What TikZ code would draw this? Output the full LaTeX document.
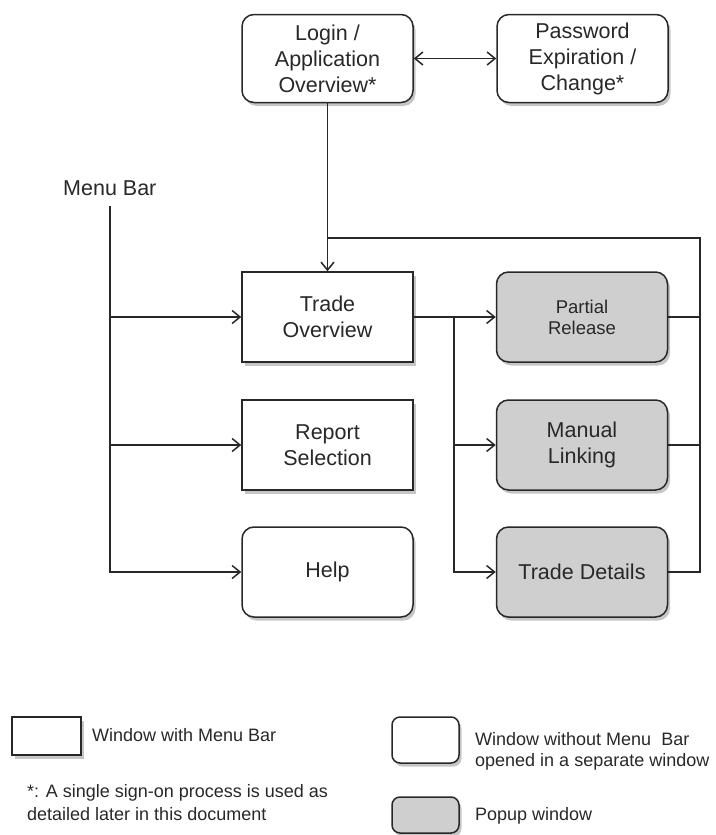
\documentclass[tikz,border=0pt]{standalone}
\usepackage{fontspec}
\setmainfont{Liberation Sans}
\usetikzlibrary{arrows.meta,shadows}
\definecolor{popgray}{RGB}{207,207,207}
\definecolor{ink}{RGB}{40,40,40}
\begin{document}
\begin{tikzpicture}[x=1pt,y=-1pt,
  >={Straight Barb[length=8pt,width=13pt]},
  conn/.style={draw=ink, line width=1.5pt},
  winbox/.style={draw=ink, line width=1.5pt, fill=white, minimum width=171pt, minimum height=90pt, inner sep=0pt, align=center, text=ink, font=\fontsize{21.5}{26}\selectfont, drop shadow={shadow xshift=2.5pt, shadow yshift=-3.5pt, opacity=0.45}},
  roundbox/.style={winbox, rounded corners=12pt},
  popbox/.style={roundbox, fill=popgray},
  legtext/.style={anchor=base west, inner sep=0pt, text=ink, font=\fontsize{18}{22}\selectfont}
]
\useasboundingbox (0,0) rectangle (715,835);

% main nodes
\node[roundbox, minimum height=88pt] (login) at (327.5,58.5) {Login /\\Application\\Overview*};
\node[roundbox, minimum height=88pt] (pwd) at (582.5,58.5) {Password\\Expiration /\\Change*};
\node[winbox] (trade) at (327.5,317) {Trade\\Overview};
\node[winbox] (report) at (327.5,445) {Report\\Selection};
\node[roundbox] (help) at (327.5,572) {Help};
\node[popbox, font=\fontsize{18.5}{21}\selectfont] (partial) at (582,317) {Partial\\Release};
\node[popbox] (manual) at (582,445) {Manual\\Linking};
\node[popbox] (details) at (582,572) {Trade Details};

\node[anchor=base west, inner sep=0pt, text=ink, font=\fontsize{21.5}{26}\selectfont] (menu) at (63,195) {Menu Bar};

% connectors
\draw[conn,<->] (login) -- (pwd);
\draw[conn,->] (login) -- (trade);
\coordinate (lt) at (327.5,238);
\coordinate (rt) at (700,238);
\draw[conn] (lt) -- (rt) |- (details.east);
\draw[conn] (partial.east) -- (rt|-partial.east);
\draw[conn] (manual.east) -- (rt|-manual.east);

\coordinate (mtop) at (110,206);
\draw[conn,->] (mtop) |- (help.west);
\draw[conn,->] (mtop|-trade.west) -- (trade.west);
\draw[conn,->] (mtop|-report.west) -- (report.west);

\coordinate (br) at (454,317);
\draw[conn,->] (trade) -- (partial);
\draw[conn,->] (br) |- (details.west);
\draw[conn,->] (br|-manual.west) -- (manual.west);

% legend
\node[winbox, minimum width=69pt, minimum height=38pt] (leg1) at (46.5,736) {};
\node[legtext] (leg1t) at (92,741) {Window with Menu Bar};
\node[winbox, rounded corners=8pt, minimum width=67pt, minimum height=46pt] (leg2) at (425.5,740) {};
\node[legtext] (leg2a) at (475,745) {Window without Menu\ \ Bar};
\node[legtext] (leg2b) at (475,766) {opened in a separate window};
\node[winbox, rounded corners=8pt, fill=popgray, minimum width=67pt, minimum height=36pt] (leg3) at (425.5,815) {};
\node[legtext] (leg3t) at (475,820) {Popup window};
\node[legtext] (note1) at (27,797) {*: A single sign-on process is used as};
\node[legtext] (note2) at (27,820) {detailed later in this document};
\end{tikzpicture}
\end{document}
